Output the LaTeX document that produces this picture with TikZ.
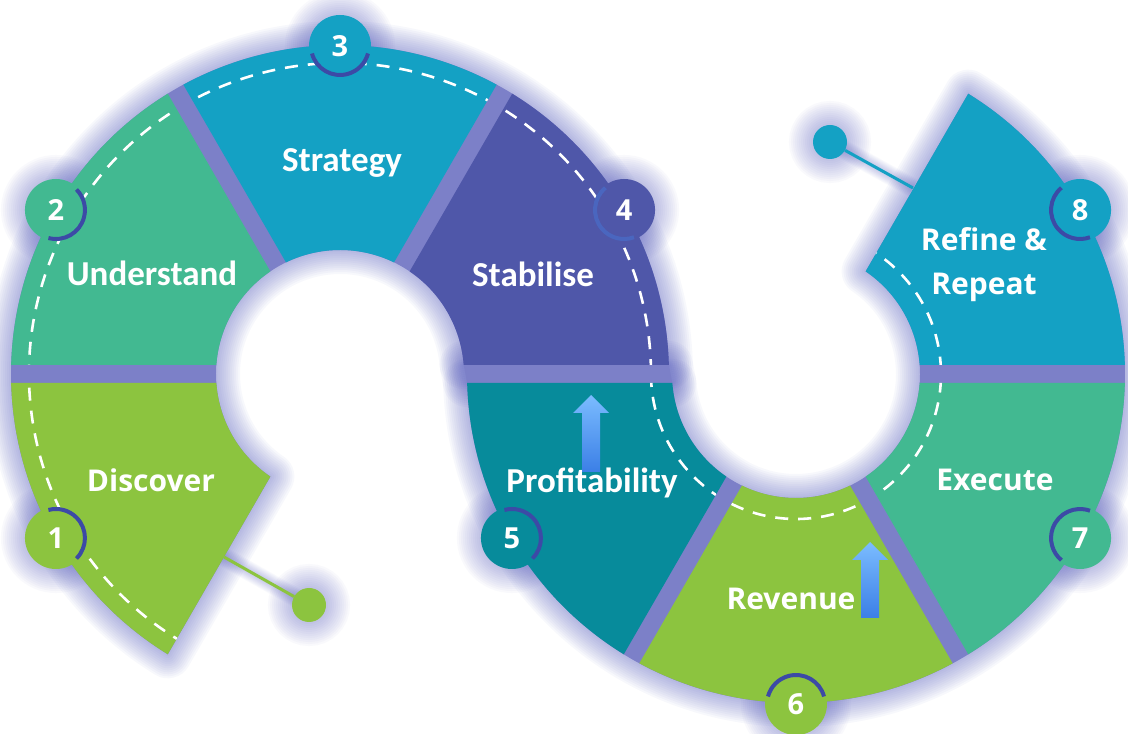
\documentclass[tikz,border=0pt]{standalone}
\usepackage{fontspec}
\setmainfont{Carlito}
\newfontfamily\osb{Open Sans}
\usetikzlibrary{calc}
\definecolor{cUnd}{HTML}{42B991}
\definecolor{cStr}{HTML}{14A1C4}
\definecolor{cSta}{HTML}{4F57A9}
\definecolor{cDis}{HTML}{8CC43F}
\definecolor{cPro}{HTML}{078B9B}
\definecolor{cGap}{HTML}{7C80C8}
\definecolor{cGlow}{HTML}{5A60C2}
\definecolor{cCres}{HTML}{3C4AA6}
\definecolor{cCresB}{HTML}{4A66BF}
\definecolor{arrTop}{HTML}{7BBCFF}
\definecolor{arrBot}{HTML}{3B7FE6}
% annular segment with constant-width gaps: options, cx, cy, a1, a2
\newcommand\ringseg[5]{\path[#1,shift={(#2,#3)}] ({#4+1.568}:329pt) arc[start angle={#4+1.568},end angle={#5-1.568},radius=329pt] -- ({#5-4.162}:124pt) arc[start angle={#5-4.162},end angle={#4+4.162},radius=124pt] -- cycle;}
\begin{document}
\begin{tikzpicture}[x=1pt,y=1pt,
  lbl/.style={text=white,font=\bfseries\fontsize{35}{35}\selectfont,anchor=base,inner sep=0pt},
  lbltwo/.style={text=white,font=\osb\bfseries\fontsize{30}{30}\selectfont,anchor=base,inner sep=0pt},
  numc/.style={circle,minimum size=62pt,inner sep=0pt,text=white,font=\osb\bfseries\fontsize{29}{29}\selectfont},
  dashln/.style={draw=white,line width=2.6pt,dash pattern=on 13pt off 10pt},
  cres/.style={line width=4pt,draw=cCres},
  pinc/.style={circle,minimum size=34pt,inner sep=0pt},
  arrowshade/.style={top color=arrTop,bottom color=arrBot}]
\useasboundingbox (0,0) rectangle (1128,734);
\fill[white] (0,0) rectangle (1128,734);
% positions
\coordinate (p1) at ($(340,360)+(210:328pt)$);
\coordinate (p2) at ($(340,360)+(150:328pt)$);
\coordinate (p3) at ($(340,360)+(90:328pt)$);
\coordinate (p4) at ($(340,360)+(30:328pt)$);
\coordinate (p5) at ($(796,360)+(210:328pt)$);
\coordinate (p6) at ($(796,360)+(270:330pt)$);
\coordinate (p7) at ($(796,360)+(330:328pt)$);
\coordinate (p8) at ($(796,360)+(30:328pt)$);
\coordinate (cq1) at (309,129);
\coordinate (cq2) at (830,592);
\coordinate (e1) at (224,177);
\coordinate (e2) at (913,546);
% soft glow
\foreach \w in {48,44,...,4}{
  \ringseg{draw=cGlow,line width=\w pt,draw opacity=0.045,line join=round}{340}{360}{0}{240}
  \ringseg{draw=cGlow,line width=\w pt,draw opacity=0.045,line join=round}{796}{360}{180}{420}
  \draw[cGlow,line width=\w pt,draw opacity=0.045,line join=round] (463.7,369)--(668.9,369)--(672.3,351)--(467.1,351)--cycle;
  \foreach \i in {1,...,8}{\draw[cGlow,line width=\w pt,draw opacity=0.035] (p\i) circle[radius=31pt];}
  \draw[cGlow,line width=\w pt,draw opacity=0.035] (cq1) circle[radius=17pt];
  \draw[cGlow,line width=\w pt,draw opacity=0.035] (cq2) circle[radius=17pt];
  \draw[cGlow,line width={0.4*\w},draw opacity=0.03] (e1) -- (cq1);
  \draw[cGlow,line width={0.4*\w},draw opacity=0.03] (e2) -- (cq2);
}
% backing (gap colour)
\ringseg{fill=cGap}{340}{360}{0}{240}
\ringseg{fill=cGap}{796}{360}{180}{420}
\fill[cGap] (463.7,369)--(668.9,369)--(672.3,351)--(467.1,351)--cycle;
% segments
\ringseg{fill=cDis}{340}{360}{180}{240}
\ringseg{fill=cUnd}{340}{360}{120}{180}
\ringseg{fill=cStr}{340}{360}{60}{120}
\ringseg{fill=cSta}{340}{360}{0}{60}
\ringseg{fill=cPro}{796}{360}{180}{240}
\ringseg{fill=cDis}{796}{360}{240}{300}
\ringseg{fill=cUnd}{796}{360}{300}{360}
\ringseg{fill=cStr}{796}{360}{0}{60}
% dashed S path
\foreach \a/\b in {180/240,120/180,60/120,0/60}{
  \begin{scope}
    \ringseg{clip}{340}{360}{\a}{\b}
    \draw[dashln] (340,360) ++(240:311pt) arc[start angle=240,end angle=0,radius=311pt];
  \end{scope}}
\foreach \a/\b in {180/240,240/300,300/360,360/420}{
  \begin{scope}
    \ringseg{clip}{796}{360}{\a}{\b}
    \draw[dashln] (796,360) ++(180:145pt) arc[start angle=180,end angle=420,radius=145pt];
  \end{scope}}
% arrows
\shade[arrowshade] (591,339) -- (609,321) -- (600,321) -- (600,262) -- (582,262) -- (582,321) -- (573,321) -- cycle;
\shade[arrowshade] (870,192) -- (888,174) -- (879,174) -- (879,116) -- (861,116) -- (861,174) -- (852,174) -- cycle;
% pins
\node[pinc,fill=cDis] (q1) at (cq1) {};
\draw[cDis,line width=3pt] (e1) -- (q1);
\node[pinc,fill=cStr] (q2) at (cq2) {};
\draw[cStr,line width=3pt] (e2) -- (q2);
% labels
\node[lbl] (tStr) at (342,562) {Strategy};
\node[lbl] (tUnd) at (152,448) {Understand};
\node[lbl] (tSta) at (533,447) {Stabilise};
\node[lbl] (tPro) at (592,241) {Profitability};
\node[lbltwo] (tDis) at (151,242) {Discover};
\node[lbltwo] (tRev) at (791,124) {Revenue};
\node[lbltwo] (tExe) at (995,243) {Execute};
\node[lbltwo] (tRef) at (984,483) {Refine \&};
\node[lbltwo] (tRep) at (984,439) {Repeat};
% number circles
\node[numc,fill=cDis] (n1) at (p1) {1};
\node[numc,fill=cUnd] (n2) at (p2) {2};
\node[numc,fill=cStr] (n3) at (p3) {3};
\node[numc,fill=cSta] (n4) at (p4) {4};
\node[numc,fill=cPro] (n5) at (p5) {5};
\node[numc,fill=cDis] (n6) at (p6) {6};
\node[numc,fill=cUnd] (n7) at (p7) {7};
\node[numc,fill=cStr] (n8) at (p8) {8};
\draw[cres] ($(n1.center)+(-45:29pt)$) arc[start angle=-45,end angle=105,radius=29pt];
\draw[cres] ($(n2.center)+(255:29pt)$) arc[start angle=255,end angle=405,radius=29pt];
\draw[cres] ($(n3.center)+(195:29pt)$) arc[start angle=195,end angle=345,radius=29pt];
\draw[cres,draw=cCresB] ($(n4.center)+(130:29pt)$) arc[start angle=130,end angle=290,radius=29pt];
\draw[cres] ($(n5.center)+(-45:29pt)$) arc[start angle=-45,end angle=105,radius=29pt];
\draw[cres] ($(n6.center)+(15:29pt)$) arc[start angle=15,end angle=165,radius=29pt];
\draw[cres] ($(n7.center)+(70:29pt)$) arc[start angle=70,end angle=230,radius=29pt];
\draw[cres] ($(n8.center)+(130:29pt)$) arc[start angle=130,end angle=290,radius=29pt];
\end{tikzpicture}
\end{document}
